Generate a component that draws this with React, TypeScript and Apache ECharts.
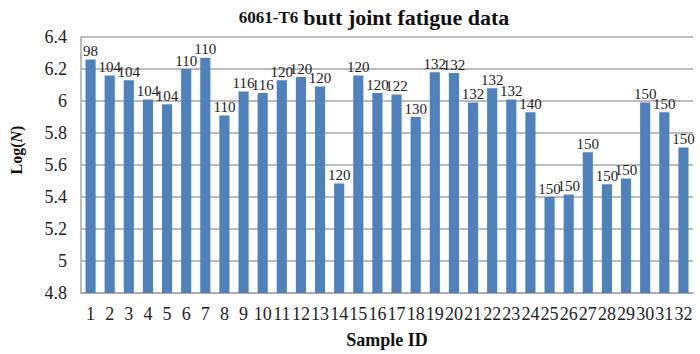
import React, { useEffect, useRef } from "react";
import * as echarts from "echarts";

const sampleIds = Array.from({ length: 32 }, (_, i) => String(i + 1));
const logN = [
  6.26, 6.16, 6.13, 6.01, 5.98, 6.2, 6.27, 5.91, 6.06, 6.05, 6.13, 6.15, 6.09, 5.485, 6.16, 6.05,
  6.04, 5.9, 6.18, 6.175, 5.99, 6.08, 6.01, 5.93, 5.4, 5.415, 5.68, 5.48, 5.515, 5.99, 5.93, 5.71,
];
const stressLabels = [
  98, 104, 104, 104, 104, 110, 110, 110, 116, 116, 120, 120, 120, 120, 120, 120,
  122, 130, 132, 132, 132, 132, 132, 140, 150, 150, 150, 150, 150, 150, 150, 150,
];

const FONT = "'Liberation Serif', 'Times New Roman', serif";

export default function App() {
  const ref = useRef<HTMLDivElement>(null);
  useEffect(() => {
    document.body.style.margin = "0";
    if (!ref.current) return;
    const chart = echarts.init(ref.current, null, { renderer: "svg" });
    chart.setOption({
      animation: false,
      backgroundColor: "#ffffff",
      title: {
        text: "{a|6061-T6} {b|butt joint fatigue data}",
        left: 369,
        textAlign: "center",
        top: 1,
        textStyle: {
          rich: {
            a: { fontFamily: FONT, fontWeight: "bold", fontSize: 17, color: "#111" },
            b: { fontFamily: FONT, fontWeight: "bold", fontSize: 22, color: "#111" },
          },
        },
      },
      grid: { left: 74, right: 7, top: 37, bottom: 61 },
      xAxis: {
        type: "category",
        data: sampleIds,
        name: "Sample ID",
        nameLocation: "middle",
        nameGap: 38,
        nameTextStyle: { fontFamily: FONT, fontWeight: "bold", fontSize: 18, color: "#111" },
        axisLine: { lineStyle: { color: "#a6a6a6", width: 1.5 } },
        axisTick: { show: false },
        axisLabel: { fontFamily: FONT, fontSize: 18, color: "#222", margin: 12, interval: 0 },
      },
      yAxis: {
        type: "value",
        min: 4.8,
        max: 6.4,
        interval: 0.2,
        name: "{r|Log(}{i|N}{r|)}",
        nameLocation: "middle",
        nameGap: 57,
        nameRotate: 90,
        nameTextStyle: {
          padding: [0, 0, 0, 30],
          rich: {
            r: { fontFamily: FONT, fontWeight: "bold", fontSize: 16, color: "#111" },
            i: { fontFamily: FONT, fontWeight: "bold", fontStyle: "italic", fontSize: 16, color: "#111" },
          },
        },
        axisLine: { show: true, lineStyle: { color: "#a6a6a6", width: 1.5 } },
        axisTick: { show: false },
        axisLabel: {
          fontFamily: FONT,
          fontSize: 18,
          color: "#222",
          margin: 14,
          formatter: (v: number) => String(Math.round(v * 10) / 10),
        },
        splitLine: { lineStyle: { color: "#a6a6a6", width: 1.5 } },
      },
      series: [
        {
          type: "bar",
          data: logN,
          barCategoryGap: "47%",
          itemStyle: { color: "#4f81bd" },
          label: {
            show: true,
            position: "top",
            distance: 1,
            fontFamily: FONT,
            fontSize: 15,
            color: "#222",
            formatter: (p: any) => String(stressLabels[p.dataIndex]),
          },
        },
      ],
    });
    return () => chart.dispose();
  }, []);
  return <div ref={ref} style={{ width: 700, height: 354 }} />;
}
